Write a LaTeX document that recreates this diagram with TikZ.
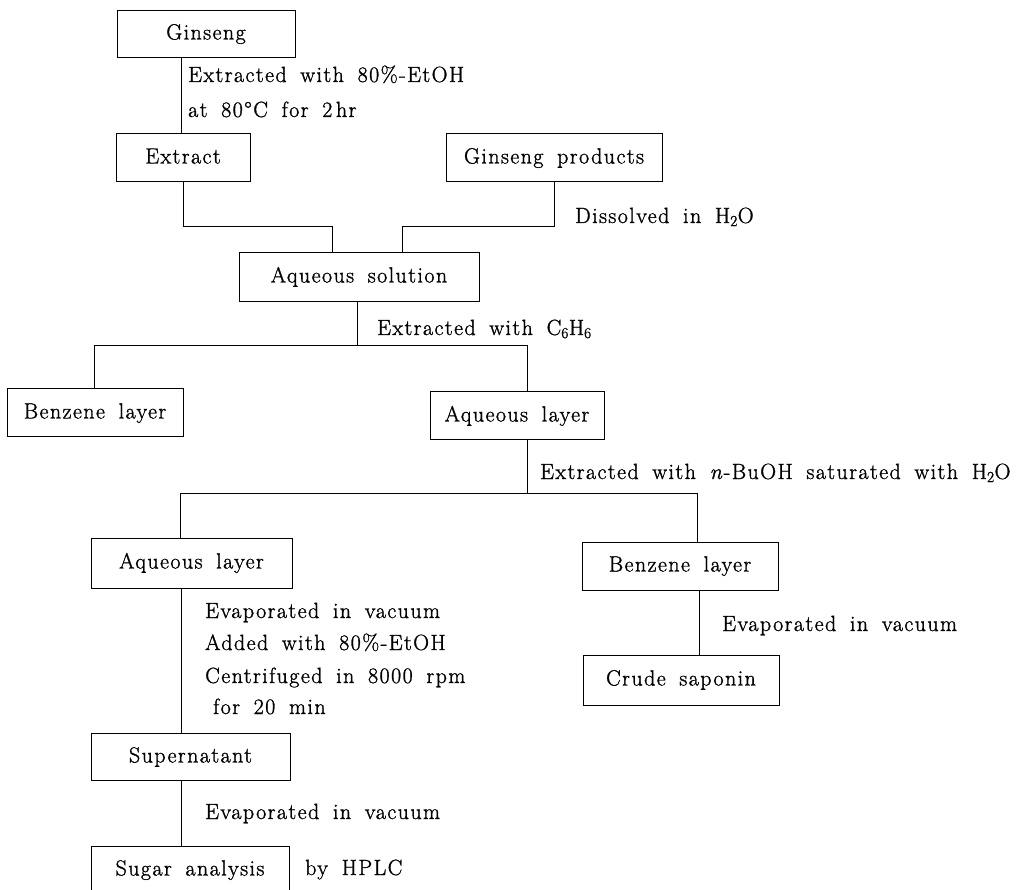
\documentclass[tikz,border=0pt]{standalone}
\usepackage{fontspec}
\setmainfont{Latin Modern Roman}[LetterSpace=6.5,WordSpace=1.7,FakeBold=1.2]
\begin{document}
\begin{tikzpicture}[x=1pt,y=-1pt,
  every node/.style={font=\fontsize{22pt}{32pt}\selectfont, inner sep=0pt},
  procbox/.style={draw, line width=1pt, text height=15pt, text depth=4pt},
  conn/.style={line width=1pt},
  lbl/.style={anchor=base west, align=left}]
\clip (0,0) rectangle (1023,890);
% boxes
\node[procbox, minimum width=178pt, minimum height=47pt] (ginseng) at (206,34) {Ginseng};
\node[procbox, minimum width=134pt, minimum height=48pt] (extract) at (183,158) {Extract};
\node[procbox, minimum width=216pt, minimum height=48pt] (gprod) at (554,158) {Ginseng products};
\node[procbox, minimum width=240pt, minimum height=49pt] (aqsol) at (359,277) {Aqueous solution};
\node[procbox, minimum width=176pt, minimum height=48pt] (benz1) at (95,413) {Benzene layer};
\node[procbox, minimum width=174pt, minimum height=48pt] (aql1) at (517,416) {Aqueous layer};
\node[procbox, minimum width=201pt, minimum height=50pt] (aql2) at (191.5,563) {Aqueous layer};
\node[procbox, minimum width=196pt, minimum height=48pt] (benz2) at (680,566) {Benzene layer};
\node[procbox, minimum width=196pt, minimum height=50pt] (crude) at (681,680) {Crude saponin};
\node[procbox, minimum width=199pt, minimum height=47pt] (super) at (190.5,757) {Supernatant};
\node[procbox, minimum width=198pt, minimum height=48pt] (sugar) at (190,870) {Sugar analysis};
% junction coordinates
\coordinate (j1) at (332,227);
\coordinate (j2) at (402,227);
\coordinate (h1L) at (94,346);
\coordinate (h1M) at (357,346);
\coordinate (h1R) at (527,346);
\coordinate (h2L) at (180,493);
\coordinate (h2M) at (527,493);
\coordinate (h2R) at (697,493);
\coordinate (v0) at (181,100);
\coordinate (v3) at (699,620);
% connectors
\draw[conn] (v0 |- ginseng.south) -- (v0 |- extract.north);
\draw[conn] (extract.south) |- (j1) -- (j1 |- aqsol.north);
\draw[conn] (gprod.south) |- (j2) -- (j2 |- aqsol.north);
\draw[conn] (h1M |- aqsol.south) -- (h1M);
\draw[conn] (h1L |- benz1.north) -- (h1L) -- (h1R) -- (h1R |- aql1.north);
\draw[conn] (h2M |- aql1.south) -- (h2M);
\draw[conn] (h2L |- aql2.north) -- (h2L) -- (h2R) -- (h2R |- benz2.north);
\draw[conn] (v3 |- benz2.south) -- (v3 |- crude.north);
\draw[conn] (v0 |- aql2.south) -- (v0 |- super.north);
\draw[conn] (v0 |- super.south) -- (v0 |- sugar.north);
% labels
\node[lbl] (t1) at (188,82) {Extracted with 80\%-EtOH};
\node[lbl] (t2) at (188,117) {at 80°C for 2\,hr};
\node[lbl] (t3) at (575,223) {Dissolved in H\textsubscript{2}O};
\node[lbl] (t4) at (377,335) {Extracted with C\textsubscript{6}H\textsubscript{6}};
\node[lbl] (t5) at (540,479) {Extracted with \textit{n}-BuOH saturated with H\textsubscript{2}O};
\node[lbl] (t6) at (722,631) {Evaporated in vacuum};
\node[lbl] (t7) at (205,618) {Evaporated in vacuum};
\node[lbl] (t8) at (205,650) {Added with 80\%-EtOH};
\node[lbl] (t9) at (205,683) {Centrifuged in 8000 rpm};
\node[lbl] (t10) at (213,714) {for 20 min};
\node[lbl] (t11) at (205,819) {Evaporated in vacuum};
\node[lbl] (t12) at (305,875) {by HPLC};
\end{tikzpicture}
\end{document}
